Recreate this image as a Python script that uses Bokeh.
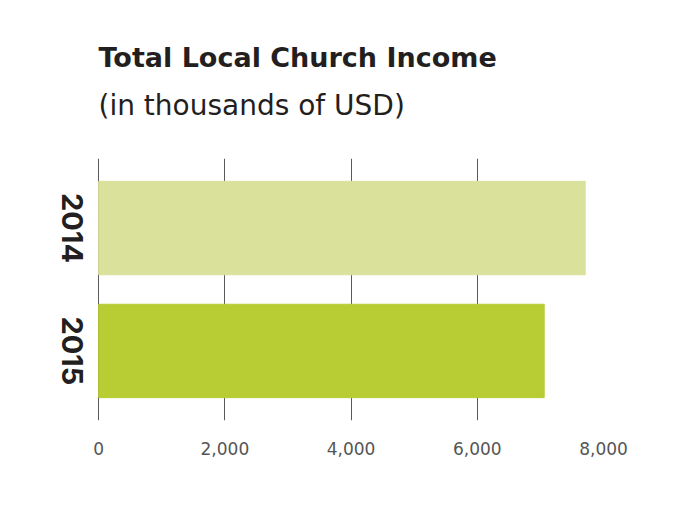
import math
from bokeh.plotting import figure
from bokeh.models import (FactorRange, Range1d, FixedTicker, NumeralTickFormatter, Title,
                          ColumnDataSource)
from bokeh.embed import file_html
from bokeh.resources import INLINE

# ---- data ----
years = ["2014", "2015"]
income = [7710, 7060]          # thousands of USD
bar_colors = ["#d9e19b", "#b8cc34"]
x_ticks = [0, 2000, 4000, 6000, 8000]

src = ColumnDataSource(dict(year=years, income=income, color=bar_colors,
                            base=[0] * len(years)))

# x range starts left of 0 so the rotated year labels sit inside the frame
p = figure(
    width=676, height=505,
    y_range=FactorRange(factors=list(reversed(years)), range_padding=0.066),
    x_range=Range1d(-700, 8000),
    output_backend="svg", toolbar_location=None, tools="",
    title=None,
    min_border_left=54, min_border_right=73, min_border_top=158, min_border_bottom=85,
)

p.hbar(y="year", right="income", left="base", height=0.76, color="color", source=src)

# rotated, top-to-bottom year labels centred on each bar
p.text(x="base", y="year", text="year", source=src,
       x_offset=-26, angle=-math.pi / 2,
       text_align="center", text_baseline="middle",
       text_font={"value": "Inter"}, text_font_style="bold",
       text_font_size="29px", text_color="#231f20")

sub = Title(text="(in thousands of USD)", text_font="DejaVu Sans", text_font_style="normal",
            text_font_size="28px", text_color="#231f20", align="left", standoff=74, offset=44)
main = Title(text="Total Local Church Income", text_font="DejaVu Sans", text_font_style="bold",
             text_font_size="27px", text_color="#231f20", align="left", standoff=-47, offset=44)
p.add_layout(sub, "above")
p.add_layout(main, "above")

p.outline_line_color = None
p.background_fill_color = "white"
p.border_fill_color = "white"

# grid
p.ygrid.grid_line_color = None
p.xgrid.grid_line_color = "#5a5a5a"
p.xgrid.grid_line_width = 1
p.xgrid.ticker = FixedTicker(ticks=x_ticks)

# x axis
p.xaxis.ticker = FixedTicker(ticks=x_ticks)
p.xaxis.formatter = NumeralTickFormatter(format="0,0")
p.xaxis.axis_line_color = None
p.xaxis.major_tick_line_color = None
p.xaxis.minor_tick_line_color = None
p.xaxis.major_label_text_font = "DejaVu Sans"
p.xaxis.major_label_text_font_size = "17px"
p.xaxis.major_label_text_color = "#555555"
p.xaxis.major_label_standoff = 15

p.yaxis.visible = False

open("out.html", "w").write(file_html(p, INLINE))
